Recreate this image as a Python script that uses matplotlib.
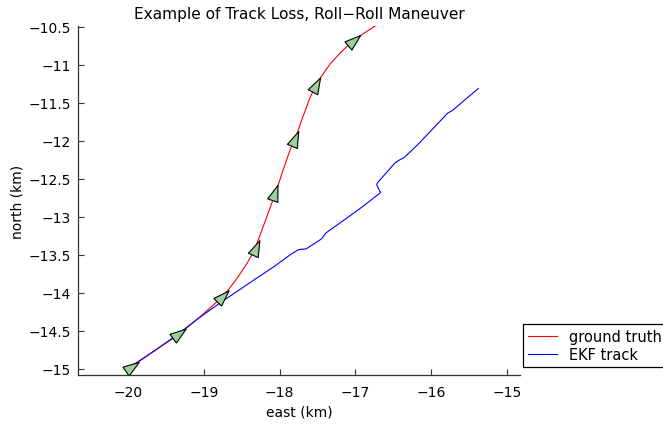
import numpy as np
from matplotlib import pyplot as plt
from matplotlib.markers import MarkerStyle
from matplotlib.path import Path
from matplotlib.transforms import Affine2D
from matplotlib.ticker import FuncFormatter

# ground truth track (km)
truth_east = [-19.98, -19.65, -19.35, -19.08, -18.91, -18.78, -18.67, -18.55, -18.43,
              -18.33, -18.23, -18.13, -18.03, -17.95, -17.86, -17.81, -17.77, -17.70,
              -17.60, -17.53, -17.45, -17.33, -17.19, -17.05, -16.93, -16.73]
truth_north = [-14.99, -14.76, -14.56, -14.34, -14.19, -14.07, -13.95, -13.79, -13.61,
               -13.43, -13.16, -12.89, -12.61, -12.37, -12.11, -12.00, -11.90, -11.70,
               -11.43, -11.28, -11.15, -10.98, -10.83, -10.70, -10.61, -10.48]

# EKF estimate (km)
ekf_east = [-19.95, -19.65, -19.35, -19.08, -18.77, -18.40, -18.07, -17.85, -17.75,
            -17.65, -17.45, -17.39, -17.15, -16.90, -16.67, -16.72, -16.71, -16.48,
            -16.42, -16.36, -16.18, -15.78, -15.74, -15.70, -15.38]
ekf_north = [-14.96, -14.76, -14.55, -14.34, -14.12, -13.87, -13.65, -13.49, -13.43,
             -13.42, -13.29, -13.21, -13.04, -12.86, -12.68, -12.58, -12.55, -12.29,
             -12.25, -12.22, -12.05, -11.63, -11.61, -11.58, -11.31]

# aircraft markers on the true track
mark_east = [-19.98, -19.35, -18.77, -18.33, -18.07, -17.81, -17.53, -17.04]
mark_north = [-14.99, -14.56, -14.07, -13.44, -12.71, -12.00, -11.29, -10.70]

xticks = [-20, -19, -18, -17, -16, -15]
yticks = [-15, -14.5, -14, -13.5, -13, -12.5, -12, -11.5, -11, -10.5]

plt.rcParams['font.family'] = ['DejaVu Sans']
plt.rcParams['font.size'] = 10

fig = plt.figure(figsize=(6.63, 4.27), dpi=100)
ax = fig.add_axes([78/663, 51/427, 442/663, 349/427])

ax.plot(truth_east, truth_north, color='red', lw=0.8, label='ground truth')
ax.plot(ekf_east, ekf_north, color='blue', lw=0.8, label='EKF track')

# triangle pointing along +x, centroid at origin
tri = Path([(1, 0), (-0.5, 0.5), (-0.5, -0.5), (1, 0)],
           [Path.MOVETO, Path.LINETO, Path.LINETO, Path.CLOSEPOLY])
te = np.array(truth_east)
tn = np.array(truth_north)
for x, y in zip(mark_east, mark_north):
    i = int(np.argmin((te - x)**2 + (tn - y)**2))
    j0, j1 = max(i - 1, 0), min(i + 1, len(te) - 1)
    ang = np.arctan2(tn[j1] - tn[j0], te[j1] - te[j0])
    m = MarkerStyle(tri, transform=Affine2D().rotate(ang))
    ax.plot(x, y, marker=m, ms=15.5, mfc='#9ccf9c', mec='black', mew=0.8, ls='none')

ax.set_xlim(-20.66, -14.83)
ax.set_ylim(-15.08, -10.487)
ax.set_xticks(xticks)
ax.set_yticks(yticks)
fmt = FuncFormatter(lambda v, p: f'{v:g}'.replace('-', '\u2212'))
ax.xaxis.set_major_formatter(fmt)
ax.yaxis.set_major_formatter(fmt)
ax.tick_params(direction='in', length=4, width=0.8, color='#333333')
ax.tick_params(axis='x', pad=7)
ax.tick_params(axis='y', pad=5)
for s in ['top', 'right']:
    ax.spines[s].set_visible(False)
for s in ['left', 'bottom']:
    ax.spines[s].set_color('#333333')
    ax.spines[s].set_linewidth(0.9)

ax.set_title('Example of Track Loss, Roll\u2212Roll Maneuver', fontsize=11.1, pad=6)
ax.set_xlabel('east (km)', labelpad=4)
ax.set_ylabel('north (km)', labelpad=3)

leg = fig.legend(loc='lower left', bbox_to_anchor=(523/663, 59/427), borderaxespad=0,
                 fancybox=False, edgecolor='black', framealpha=1, handlelength=2.0,
                 handletextpad=0.8, borderpad=0.35, labelspacing=0.2, fontsize=10.5)
leg.get_frame().set_linewidth(0.9)

fig.savefig('out.png', dpi=100)
